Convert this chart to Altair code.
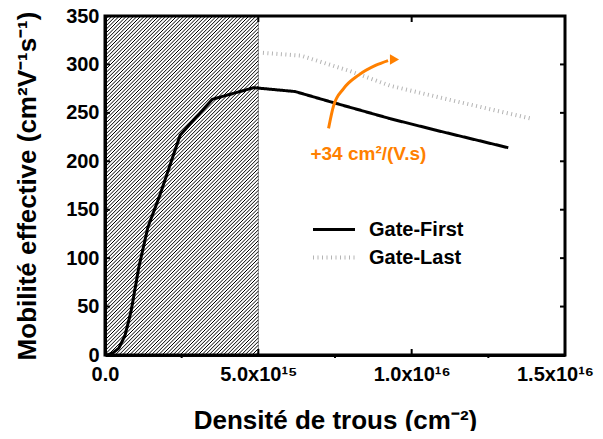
import json
import numpy as np
import pandas as pd
import altair as alt

# ---------------- data (x in units of 1e15 cm^-2) ----------------
GF_X = [0.07, 0.25, 0.45, 0.65, 0.85, 1.1, 1.4, 1.8, 2.45, 3.5, 4.85, 6.2, 7.4, 9.3, 10.8, 13.15]
GF_Y = [0, 2, 7, 20, 45, 90, 132, 166, 227, 264, 276, 272, 261, 244, 232, 214]
GL_X = [5.15, 6.4, 8.0, 9.3, 11.3, 13.9]
GL_Y = [312, 309, 293, 278, 263, 244]
SERIES = ["Gate-First", "Gate-Last"]

HATCH_X = [0, 5]
HATCH_Y = [0, 350]

ARROW_X = [7.29, 7.45, 7.78, 8.27, 8.82, 9.23]
ARROW_Y = [234, 257, 275, 289, 299, 304]
ARROW_HEAD = [9.44, 305]
ANNOT_TEXT = "+34 cm²/(V.s)"
ANNOT_POS = [8.59, 208]

X_TICKS = [0, 5, 10, 15]
X_MINOR = [2.5, 7.5, 12.5]
X_TICK_LABELS = ["0.0", "5.0x10¹⁵", "1.0x10¹⁶", "1.5x10¹⁶"]
Y_TICKS = [0, 50, 100, 150, 200, 250, 300, 350]
X_TITLE = "Densité de trous (cm⁻²)"
Y_TITLE = "Mobilité effective (cm²V⁻¹s⁻¹)"

W, H = 460, 339
FONT = "Liberation Sans"
XMIN, XMAX, YMIN, YMAX = 0, 15, 0, 350

# ---------------- tables ----------------
lines = pd.DataFrame(
    [{"x": x, "y": y, "series": SERIES[0]} for x, y in zip(GF_X, GF_Y)]
    + [{"x": x, "y": y, "series": SERIES[1]} for x, y in zip(GL_X, GL_Y)]
)
region = pd.DataFrame({"x": [HATCH_X[0]], "x2": [HATCH_X[1]], "y": [HATCH_Y[0]], "y2": [HATCH_Y[1]]})
frame = pd.DataFrame({"x": [XMIN], "x2": [XMAX], "y": [YMIN], "y2": [YMAX]})

xpx_per = W / (XMAX - XMIN)
ypx_per = H / (YMAX - YMIN)

# hatch pattern: 45-degree lines clipped to the region (spacing in pixels)
rw = (HATCH_X[1] - HATCH_X[0]) * xpx_per
rh = (HATCH_Y[1] - HATCH_Y[0]) * ypx_per
rows = []
for c in np.arange(-rh, rw, 3.6):
    x0 = max(0.0, c)
    x1 = min(rw, c + rh)
    rows.append({
        "x": HATCH_X[0] + x0 / xpx_per, "y": HATCH_Y[0] + (x0 - c) / ypx_per,
        "x2": HATCH_X[0] + x1 / xpx_per, "y2": HATCH_Y[0] + (x1 - c) / ypx_per,
    })
hatch = pd.DataFrame(rows)

# tick marks drawn as short rules (lengths in pixels converted to data units)
lx = 6 / ypx_per
ly = 5 / xpx_per
lm = 3 / ypx_per
tick_rows = []
for v in X_TICKS:
    tick_rows.append({"x": v, "x2": v, "y": YMIN, "y2": YMIN + lx})
    tick_rows.append({"x": v, "x2": v, "y": YMAX - lx, "y2": YMAX})
for v in X_MINOR:
    tick_rows.append({"x": v, "x2": v, "y": YMIN - lm, "y2": YMIN})
for v in Y_TICKS:
    tick_rows.append({"x": XMIN, "x2": XMIN + ly, "y": v, "y2": v})
    tick_rows.append({"x": XMAX - ly, "x2": XMAX, "y": v, "y2": v})
ticks = pd.DataFrame(tick_rows)

arrow = pd.DataFrame({"x": ARROW_X, "y": ARROW_Y})
head = pd.DataFrame({"x": [ARROW_HEAD[0]], "y": [ARROW_HEAD[1]]})
annot = pd.DataFrame({"x": [ANNOT_POS[0]], "y": [ANNOT_POS[1]], "t": [ANNOT_TEXT]})

xs = alt.Scale(domain=[XMIN, XMAX], nice=False, zero=False)
ys = alt.Scale(domain=[YMIN, YMAX], nice=False)

label_expr = f"{json.dumps(X_TICK_LABELS)}[round(datum.value / 5)]"

x_main = alt.Axis(values=X_TICKS, labelExpr=label_expr, title=X_TITLE, ticks=False,
                  domain=True, domainColor="black", domainWidth=3, zindex=1,
                  grid=False, labelFont=FONT, labelFontSize=20, labelFontWeight="bold", labelColor="black",
                  labelPadding=9, titleFont=FONT, titleFontSize=26, titleFontWeight="bold",
                  titleColor="black", titlePadding=23, labelFlush=False, labelOverlap=False,
                  labelOffset={"condition": {"test": "datum.value == 15", "value": -10}, "value": 0})
y_main = alt.Axis(values=Y_TICKS, title=Y_TITLE, ticks=False,
                  domain=True, domainColor="black", domainWidth=3, zindex=1, grid=False,
                  labelFont=FONT, labelFontSize=20, labelFontWeight="bold", labelColor="black",
                  labelPadding=6, titleFont=FONT, titleFontSize=26, titleFontWeight="bold",
                  titleColor="black", titlePadding=25)

def X():
    return alt.X("x:Q", scale=xs, axis=None)

def Y():
    return alt.Y("y:Q", scale=ys, axis=None)

rect = alt.Chart(region).mark_rect(fill="white", stroke="#888888", strokeWidth=1).encode(
    x=alt.X("x:Q", scale=xs, axis=x_main), x2="x2", y=alt.Y("y:Q", scale=ys, axis=y_main), y2="y2")

hatch_layer = alt.Chart(hatch).mark_rule(color="black", strokeWidth=1).encode(
    x=X(), x2="x2", y=Y(), y2="y2")

frame_layer = alt.Chart(frame).mark_rect(fillOpacity=0, stroke="black", strokeWidth=3, clip=False).encode(
    x=X(), x2="x2", y=Y(), y2="y2")

tick_layer = alt.Chart(ticks).mark_rule(color="black", strokeWidth=2, clip=False).encode(
    x=X(), x2="x2", y=Y(), y2="y2")

leg = dict(orient="none", legendX=206, legendY=203, title=None,
           labelFont=FONT, labelFontSize=20, labelFontWeight="bold",
           labelColor="black", symbolType="stroke", symbolSize=1764,
           symbolStrokeWidth=3, rowPadding=7, labelOffset=12, clipHeight=21)

line_layer = alt.Chart(lines).mark_line(clip=True).encode(
    x=X(), y=Y(),
    color=alt.Color("series:N", scale=alt.Scale(domain=SERIES, range=["black", "#b4b4b4"]),
                    legend=alt.Legend(**leg)),
    strokeDash=alt.StrokeDash("series:N", scale=alt.Scale(domain=SERIES, range=[[1, 0], [1, 3.5]]),
                              legend=alt.Legend(**leg)),
    strokeWidth=alt.StrokeWidth("series:N", scale=alt.Scale(domain=SERIES, range=[3, 4]), legend=None),
    order=alt.Order("x:Q"),
)

orange = "#ff8000"
arrow_layer = alt.Chart(arrow).mark_line(color=orange, strokeWidth=3, interpolate="monotone").encode(
    x=X(), y=Y())
head_layer = alt.Chart(head).mark_point(shape="triangle-right", filled=True, color=orange, size=110,
                                        opacity=1).encode(x=X(), y=Y())
text_layer = alt.Chart(annot).mark_text(color=orange, font=FONT, fontSize=19, fontWeight="bold",
                                        align="center", baseline="middle").encode(
    x=X(), y=Y(), text="t:N")

chart = alt.layer(
    rect, hatch_layer, line_layer, frame_layer, tick_layer, arrow_layer, head_layer, text_layer
).resolve_axis(x="independent", y="independent").properties(
    width=W, height=H, autosize=alt.AutoSizeParams(type="none"),
    padding={"left": 97, "top": 8, "right": 30, "bottom": 76},
).configure_view(strokeWidth=0).configure(background="white")

chart.save("out.html", embed_options={"renderer": "svg", "actions": False})
